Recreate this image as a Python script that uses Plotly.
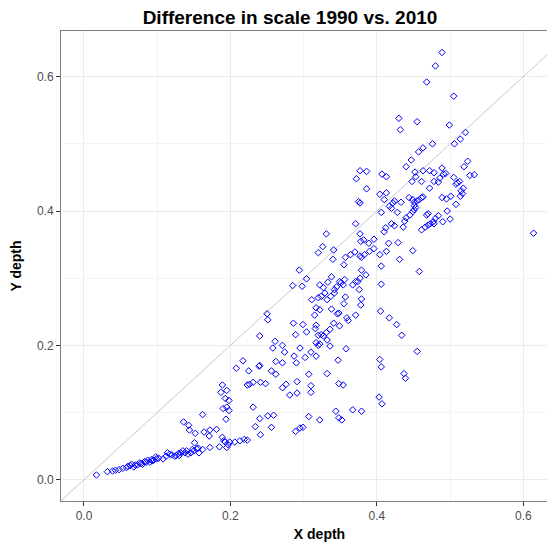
import plotly.graph_objects as go

# lower band (small depths)
band_x = [0.017, 0.032, 0.039, 0.043, 0.048, 0.053, 0.058, 0.060, 0.063, 0.065,
          0.068, 0.070, 0.073, 0.076, 0.078, 0.080, 0.083, 0.085, 0.087, 0.090,
          0.092, 0.093, 0.095, 0.098, 0.099, 0.102, 0.108, 0.112, 0.114, 0.117,
          0.120, 0.124, 0.126, 0.129, 0.130, 0.132, 0.135, 0.138, 0.140, 0.142,
          0.146, 0.148, 0.150, 0.151, 0.154, 0.156, 0.157, 0.162, 0.136, 0.143,
          0.144, 0.152, 0.164, 0.162, 0.172, 0.181, 0.171, 0.172, 0.185, 0.189,
          0.191, 0.193, 0.195, 0.197, 0.189, 0.187, 0.195, 0.193, 0.198, 0.190,
          0.195, 0.198, 0.194,
          0.199, 0.206, 0.213, 0.219, 0.223, 0.208, 0.217, 0.223]
band_y = [0.007, 0.012, 0.013, 0.014, 0.015, 0.017, 0.018, 0.020, 0.021, 0.023,
          0.019, 0.022, 0.022, 0.025, 0.024, 0.023, 0.027, 0.026, 0.029, 0.026,
          0.030, 0.028, 0.029, 0.034, 0.031, 0.032, 0.031, 0.035, 0.040, 0.038,
          0.037, 0.035, 0.036, 0.039, 0.036, 0.040, 0.043, 0.040, 0.043, 0.038,
          0.040, 0.045, 0.043, 0.055, 0.046, 0.047, 0.040, 0.045, 0.086, 0.081,
          0.074, 0.069, 0.071, 0.097, 0.074, 0.075, 0.065, 0.048, 0.049, 0.063,
          0.058, 0.056, 0.048, 0.052, 0.141, 0.130, 0.133, 0.121, 0.118, 0.106,
          0.108, 0.103, 0.090,
          0.056, 0.056, 0.058, 0.060, 0.059, 0.166, 0.177, 0.141]

# middle-low cloud
low_x = [0.225, 0.256, 0.262, 0.226, 0.231, 0.241, 0.248, 0.271, 0.276, 0.291,
         0.281, 0.291, 0.307, 0.310, 0.310, 0.332, 0.348, 0.354, 0.231, 0.240,
         0.251, 0.259, 0.234, 0.256, 0.241, 0.289, 0.295, 0.299, 0.307, 0.322,
         0.344, 0.348, 0.352, 0.367, 0.379, 0.403, 0.407, 0.437, 0.439]
low_y = [0.162, 0.162, 0.157, 0.142, 0.145, 0.145, 0.143, 0.137, 0.142, 0.146,
         0.126, 0.129, 0.157, 0.140, 0.130, 0.158, 0.143, 0.141, 0.108, 0.091,
         0.095, 0.096, 0.079, 0.078, 0.067, 0.072, 0.077, 0.078, 0.094, 0.089,
         0.102, 0.092, 0.089, 0.104, 0.102, 0.123, 0.113, 0.158, 0.151]

# middle cloud
mid_x = [0.371, 0.331, 0.377, 0.326, 0.320, 0.341, 0.340, 0.357, 0.364, 0.370,
         0.355, 0.378, 0.382, 0.389, 0.396, 0.377, 0.379, 0.383, 0.390, 0.396,
         0.294, 0.285, 0.298, 0.304, 0.379, 0.385, 0.377, 0.374, 0.322, 0.327,
         0.333, 0.338, 0.342, 0.345, 0.349, 0.351, 0.356, 0.354, 0.367, 0.371,
         0.376, 0.311, 0.320, 0.324, 0.329, 0.332, 0.337, 0.342, 0.379, 0.378,
         0.357, 0.355, 0.317, 0.322, 0.315, 0.338, 0.346, 0.348, 0.359, 0.361,
         0.371, 0.250, 0.251, 0.240, 0.286, 0.299, 0.289, 0.304, 0.317, 0.316,
         0.320, 0.324, 0.327, 0.331, 0.336, 0.341, 0.349, 0.317, 0.322, 0.320,
         0.332, 0.336, 0.358, 0.261, 0.258, 0.271, 0.274, 0.295, 0.239, 0.240,
         0.262, 0.271, 0.287, 0.290, 0.302, 0.310, 0.317, 0.347, 0.404, 0.406,
         0.455]
mid_y = [0.381, 0.366, 0.366, 0.347, 0.338, 0.342, 0.328, 0.331, 0.335, 0.339,
         0.320, 0.355, 0.357, 0.352, 0.358, 0.333, 0.331, 0.335, 0.340, 0.344,
         0.312, 0.289, 0.288, 0.299, 0.312, 0.305, 0.300, 0.295, 0.290, 0.286,
         0.294, 0.302, 0.283, 0.287, 0.295, 0.293, 0.298, 0.290, 0.290, 0.295,
         0.283, 0.268, 0.271, 0.273, 0.278, 0.268, 0.273, 0.278, 0.269, 0.260,
         0.272, 0.262, 0.256, 0.253, 0.245, 0.254, 0.247, 0.248, 0.241, 0.237,
         0.245, 0.247, 0.238, 0.214, 0.233, 0.231, 0.216, 0.220, 0.230, 0.225,
         0.215, 0.216, 0.214, 0.219, 0.224, 0.233, 0.229, 0.204, 0.202, 0.200,
         0.208, 0.199, 0.195, 0.206, 0.196, 0.200, 0.190, 0.196, 0.169, 0.170,
         0.176, 0.174, 0.184, 0.174, 0.182, 0.190, 0.184, 0.178, 0.179, 0.168,
         0.191]

# upper cloud
high_x = [0.377, 0.386, 0.372, 0.386, 0.375, 0.377, 0.489, 0.480, 0.468, 0.505,
          0.430, 0.432, 0.455, 0.499, 0.521, 0.514, 0.506, 0.476, 0.463, 0.457,
          0.447, 0.440, 0.524, 0.519, 0.527, 0.533, 0.407, 0.413, 0.452, 0.453,
          0.448, 0.463, 0.472, 0.478, 0.489, 0.491, 0.494, 0.461, 0.472, 0.478,
          0.484, 0.486, 0.505, 0.508, 0.510, 0.513, 0.518, 0.515, 0.517, 0.514,
          0.508, 0.501, 0.495, 0.489, 0.404, 0.413, 0.410, 0.417, 0.424, 0.422,
          0.433, 0.420, 0.444, 0.449, 0.451, 0.455, 0.461, 0.463, 0.458, 0.451,
          0.453]
high_y = [0.460, 0.459, 0.448, 0.433, 0.414, 0.412, 0.636, 0.616, 0.592, 0.571,
          0.538, 0.521, 0.533, 0.528, 0.517, 0.507, 0.500, 0.500, 0.494, 0.488,
          0.476, 0.466, 0.474, 0.466, 0.453, 0.454, 0.455, 0.451, 0.458, 0.451,
          0.444, 0.460, 0.460, 0.457, 0.464, 0.455, 0.456, 0.444, 0.434, 0.444,
          0.443, 0.449, 0.450, 0.440, 0.442, 0.444, 0.434, 0.430, 0.426, 0.422,
          0.410, 0.422, 0.418, 0.420, 0.425, 0.427, 0.417, 0.407, 0.415, 0.412,
          0.413, 0.404, 0.420, 0.417, 0.413, 0.415, 0.420, 0.421, 0.417, 0.408,
          0.405]

# right cloud
right_x = [0.614, 0.496, 0.500, 0.490, 0.484, 0.480, 0.477, 0.473, 0.478, 0.470,
           0.468, 0.470, 0.461, 0.466, 0.449, 0.451, 0.445, 0.440, 0.438, 0.436,
           0.420, 0.424, 0.412, 0.410, 0.428, 0.406, 0.416, 0.429, 0.413, 0.404,
           0.406, 0.431, 0.449, 0.458, 0.406, 0.405, 0.417, 0.427, 0.434]
right_y = [0.367, 0.400, 0.388, 0.384, 0.393, 0.389, 0.384, 0.381, 0.381, 0.379,
           0.394, 0.396, 0.372, 0.376, 0.399, 0.402, 0.394, 0.390, 0.385, 0.376,
           0.381, 0.378, 0.375, 0.369, 0.398, 0.398, 0.352, 0.353, 0.340, 0.335,
           0.318, 0.328, 0.341, 0.310, 0.291, 0.251, 0.241, 0.231, 0.215]

# identity line y = x
ref_line = [-0.1, 0.8]

x_depth = band_x + low_x + mid_x + high_x + right_x
y_depth = band_y + low_y + mid_y + high_y + right_y
assert len(x_depth) == len(y_depth), (len(x_depth), len(y_depth))

font = "Arial, Liberation Sans, sans-serif"

fig = go.Figure()
fig.add_trace(go.Scatter(x=ref_line, y=ref_line, mode='lines',
                         line=dict(color='#C8C8C8', width=1),
                         hoverinfo='skip', showlegend=False))
fig.add_trace(go.Scatter(x=x_depth, y=y_depth, mode='markers',
                         marker=dict(symbol='diamond-open', size=5, color='blue',
                                     line=dict(width=1)),
                         showlegend=False))

axis_style = dict(
    showgrid=True, gridcolor='#EBEBEB', gridwidth=1.2,
    minor=dict(dtick=0.1, showgrid=True, gridcolor='#F4F4F4', gridwidth=0.8),
    tick0=0, dtick=0.2, tickformat='.1f',
    ticks='outside', ticklen=4, tickcolor='#333333',
    tickfont=dict(family=font, size=12, color='#4D4D4D'),
    showline=True, linecolor='#7F7F7F', linewidth=1,
    zeroline=False, automargin=False,
)

# page has an 8px body margin; the panel runs past the right edge of the window
fig.update_layout(
    width=570, height=540,
    margin=dict(l=53, r=0, t=23, b=47),
    paper_bgcolor='white', plot_bgcolor='white',
    font=dict(family=font),
    title=dict(text='<b>Difference in scale 1990 vs. 2010</b>',
               font=dict(family=font, size=19, color='black'),
               x=282 / 570, xanchor='center', xref='container',
               y=1 - 9.5 / 540, yanchor='middle', yref='container'),
    xaxis=dict(axis_style, range=[-0.0314, 0.6747], mirror=True,
               title=dict(text='<b>X depth</b>', standoff=6,
                          font=dict(family=font, size=14, color='black'))),
    yaxis=dict(axis_style, range=[-0.0317, 0.668],
               title=dict(text='<b>Y depth</b>', standoff=15,
                          font=dict(family=font, size=14, color='black'))),
)

fig.write_html("out.html")
